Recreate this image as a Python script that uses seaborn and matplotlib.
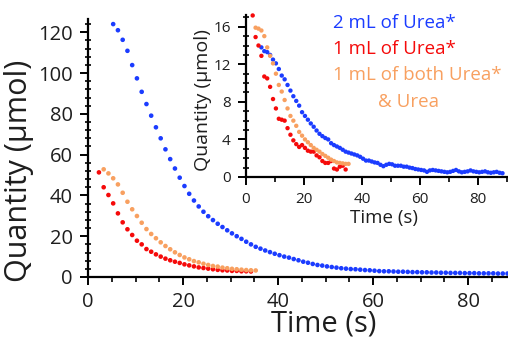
import matplotlib
matplotlib.use("Agg")
import matplotlib.pyplot as plt
import seaborn as sns
import pandas as pd
from matplotlib.ticker import MultipleLocator

# ---------------- data ----------------
t_red = [2.3, 3.3, 4.3, 5.3, 6.3, 7.3, 8.3, 9.3, 10.3, 11.3, 12.3, 13.3, 14.3, 15.3, 16.3,
         17.3, 18.3, 19.3, 20.3, 21.3, 22.3, 23.3, 24.3, 25.3, 26.3, 27.3, 28.3, 29.3, 30.3,
         31.3, 32.3, 33.3, 34.3]
t_orange = [3.3, 4.3, 5.3, 6.3, 7.3, 8.3, 9.3, 10.3, 11.3, 12.3, 13.3, 14.3, 15.3, 16.3,
            17.3, 18.3, 19.3, 20.3, 21.3, 22.3, 23.3, 24.3, 25.3, 26.3, 27.3, 28.3, 29.3,
            30.3, 31.3, 32.3, 33.3, 34.3, 35.3]
t_blue = [5.3, 6.3, 7.3, 8.3, 9.3, 10.3, 11.3, 12.3, 13.3, 14.3, 15.3, 16.3, 17.3, 18.3,
          19.3, 20.3, 21.3, 22.3, 23.3, 24.3, 25.3, 26.3, 27.3, 28.3, 29.3, 30.3, 31.3, 32.3,
          33.3, 34.3, 35.3, 36.3, 37.3, 38.3, 39.3, 40.3, 41.3, 42.3, 43.3, 44.3, 45.3, 46.3,
          47.3, 48.3, 49.3, 50.3, 51.3, 52.3, 53.3, 54.3, 55.3, 56.3, 57.3, 58.3, 59.3, 60.3,
          61.3, 62.3, 63.3, 64.3, 65.3, 66.3, 67.3, 68.3, 69.3, 70.3, 71.3, 72.3, 73.3, 74.3,
          75.3, 76.3, 77.3, 78.3, 79.3, 80.3, 81.3, 82.3, 83.3, 84.3, 85.3, 86.3, 87.3, 88.3]

# main panel (µmol)
main_red = [51.3, 44.0, 40.2, 36.1, 31.2, 26.8, 23.4, 20.6, 17.8, 16.0, 13.7, 12.4, 11.1,
            10.0, 9.0, 8.2, 7.5, 6.9, 6.2, 5.7, 5.2, 4.7, 4.4, 4.1, 3.8, 3.5, 3.3, 3.2, 3.0,
            3.0, 2.8, 2.8, 2.7]
main_orange = [52.8, 50.8, 48.4, 45.4, 41.3, 36.9, 33.2, 29.9, 26.6, 23.5, 21.1, 19.0, 17.0,
               15.2, 13.6, 12.1, 10.8, 9.6, 8.7, 7.8, 7.2, 6.5, 5.9, 5.4, 5.1, 4.6, 4.3, 4.0,
               3.8, 3.6, 3.4, 3.3, 3.2]
main_blue = [124.0, 121.0, 116.3, 110.9, 103.9, 97.4, 90.8, 84.8, 79.1, 73.4, 68.0, 62.6,
             57.8, 53.2, 48.7, 44.6, 40.8, 37.5, 34.6, 32.0, 29.8, 27.9, 26.1, 24.5, 22.9,
             21.4, 20.0, 18.7, 17.3, 16.0, 14.8, 13.9, 13.0, 12.2, 11.4, 10.7, 10.0, 9.5, 8.8,
             8.2, 7.5, 7.0, 6.4, 5.9, 5.6, 5.2, 4.9, 4.6, 4.3, 4.1, 3.9, 3.8, 3.6, 3.4, 3.3,
             3.1, 2.9, 2.8, 2.8, 2.7, 2.6, 2.6, 2.5, 2.4, 2.4, 2.3, 2.3, 2.2, 2.2, 2.1, 2.1,
             2.0, 2.0, 2.0, 1.9, 1.9, 1.9, 1.8, 1.8, 1.8, 1.8, 1.7, 1.7, 1.7]

# inset panel (µmol)
inset_red = [17.2, 14.9, 14.0, 12.9, 10.7, 10.5, 9.6, 8.3, 7.3, 6.2, 6.1, 6.0, 5.2, 4.5,
             3.9, 3.5, 3.2, 3.4, 3.1, 2.8, 2.7, 2.7, 2.3, 2.1, 1.7, 1.5, 1.5, 1.7, 0.9, 0.8,
             1.1, 1.2, 0.8]
inset_orange = [15.9, 15.8, 15.6, 15.0, 13.8, 12.9, 12.1, 11.0, 9.8, 9.1, 8.2, 7.3, 6.5,
                6.0, 5.45, 4.8, 4.4, 4.0, 3.7, 3.4, 3.1, 2.9, 2.7, 2.45, 2.25, 2.05, 1.85,
                1.7, 1.55, 1.5, 1.45, 1.4, 1.4]
inset_blue = [13.8, 13.4, 13.3, 13.0, 12.5, 12.1, 11.5, 10.8, 10.4, 9.8, 9.2, 8.6, 8.1, 7.6,
              6.9, 6.5, 6.1, 5.7, 5.35, 4.95, 4.6, 4.35, 4.15, 4.0, 3.6, 3.4, 3.25, 3.1, 2.9,
              2.7, 2.6, 2.5, 2.4, 2.3, 2.15, 1.95, 1.75, 1.75, 1.65, 1.55, 1.5, 1.3, 1.15, 1.3,
              1.4, 1.35, 1.2, 1.2, 1.2, 1.1, 1.1, 1.0, 0.95, 0.85, 0.8, 0.75, 0.7, 0.55, 0.7,
              0.75, 0.7, 0.65, 0.6, 0.55, 0.5, 0.55, 0.65, 0.75, 0.6, 0.5, 0.55, 0.6, 0.7, 0.6,
              0.55, 0.5, 0.55, 0.6, 0.5, 0.45, 0.5, 0.55, 0.45, 0.4]

legend_labels = ["2 mL of Urea*", "1 mL of Urea*", "1 mL of both Urea*", "& Urea"]
main_xticks = [0, 20, 40, 60, 80]
main_yticks = [0, 20, 40, 60, 80, 100, 120]
inset_xticks = [0, 20, 40, 60, 80]
inset_yticks = [0, 4, 8, 12, 16]

# ---------------- style ----------------
BLUE = "#1b3cff"
RED = "#f50a0a"
ORANGE = "#f8a060"
TXT = "#1e1e1e"

sns.set_theme(style="ticks")
plt.rcParams["font.family"] = ["Open Sans", "DejaVu Sans"]
plt.rcParams["axes.linewidth"] = 1.6

W, H = 508, 337
fig = plt.figure(figsize=(W / 100, H / 100), dpi=100)
fig.patch.set_facecolor("white")


def px_axes(x0, y_top, x1, y_bot):
    return fig.add_axes([x0 / W, 1 - y_bot / H, (x1 - x0) / W, (y_bot - y_top) / H])


def style_axes(ax, xmaj, xmin, ymaj, ymin, lab_size):
    sns.despine(ax=ax)
    for s in ("left", "bottom"):
        ax.spines[s].set_color("black")
        ax.spines[s].set_linewidth(1.6)
    ax.xaxis.set_major_locator(MultipleLocator(xmaj))
    ax.xaxis.set_minor_locator(MultipleLocator(xmin))
    ax.yaxis.set_major_locator(MultipleLocator(ymaj))
    ax.yaxis.set_minor_locator(MultipleLocator(ymin))
    ax.tick_params(axis="both", which="major", direction="out", length=6, width=1.4,
                   color="black", labelsize=lab_size, labelcolor=TXT, pad=5)
    ax.tick_params(axis="x", which="minor", direction="out", length=3.5, width=1.2,
                   color="black")
    ax.tick_params(axis="y", which="minor", direction="inout", length=5, width=1.2,
                   color="black")
    ax.set_facecolor("none")


# ---------------- main panel ----------------
ax = px_axes(88, 19, 508, 277)
df_b = pd.DataFrame({"t": t_blue, "q": main_blue})
df_r = pd.DataFrame({"t": t_red, "q": main_red})
df_o = pd.DataFrame({"t": t_orange, "q": main_orange})
for df, c in ((df_b, BLUE), (df_r, RED), (df_o, ORANGE)):
    sns.scatterplot(data=df, x="t", y="q", ax=ax, color=c, s=11, linewidth=0,
                    edgecolor="none", legend=False, clip_on=True)
ax.set_xlim(0, 88.4)
ax.set_ylim(0, 126.5)
style_axes(ax, 20, 5, 20, 4, 14.5)
ax.set_xticks(main_xticks)
ax.set_yticks(main_yticks)
ax.set_xlabel("Time (s)", fontsize=21, color=TXT)
ax.set_ylabel("Quantity (µmol)", fontsize=22, color=TXT)
ax.xaxis.set_label_coords(0.56, (277 - 331) / 258)
ax.xaxis.label.set_verticalalignment("baseline")
ax.yaxis.set_label_coords(-0.128, 0.41)

# ---------------- inset panel ----------------
ins = px_axes(246, 15, 508, 177)
di_b = pd.DataFrame({"t": t_blue, "q": inset_blue})
di_r = pd.DataFrame({"t": t_red, "q": inset_red})
di_o = pd.DataFrame({"t": t_orange, "q": inset_orange})
for df, c in ((di_b, BLUE), (di_r, RED), (di_o, ORANGE)):
    sns.scatterplot(data=df, x="t", y="q", ax=ins, color=c, s=10, linewidth=0,
                    edgecolor="none", legend=False, clip_on=False)
ins.set_xlim(0, 90.2)
ins.set_ylim(0, 17.25)
style_axes(ins, 20, 10, 4, 1, 11)
ins.set_xticks(inset_xticks)
ins.set_yticks(inset_yticks)
ins.set_xlabel("Time (s)", fontsize=13.5, color=TXT)
ins.set_ylabel("Quantity (µmol)", fontsize=14, color=TXT)
ins.xaxis.set_label_coords(0.527, -0.2)
ins.yaxis.set_label_coords(-0.13, 0.475)

# ---------------- legend text ----------------
leg_pos = [(333, 23, BLUE), (333, 49, RED), (333, 75, ORANGE), (378, 102, ORANGE)]
for lab, (x, y, c) in zip(legend_labels, leg_pos):
    fig.text(x / W, 1 - y / H, lab, color=c, fontsize=13.5, ha="left", va="center")

fig.savefig("out.png", dpi=100, facecolor="white")
